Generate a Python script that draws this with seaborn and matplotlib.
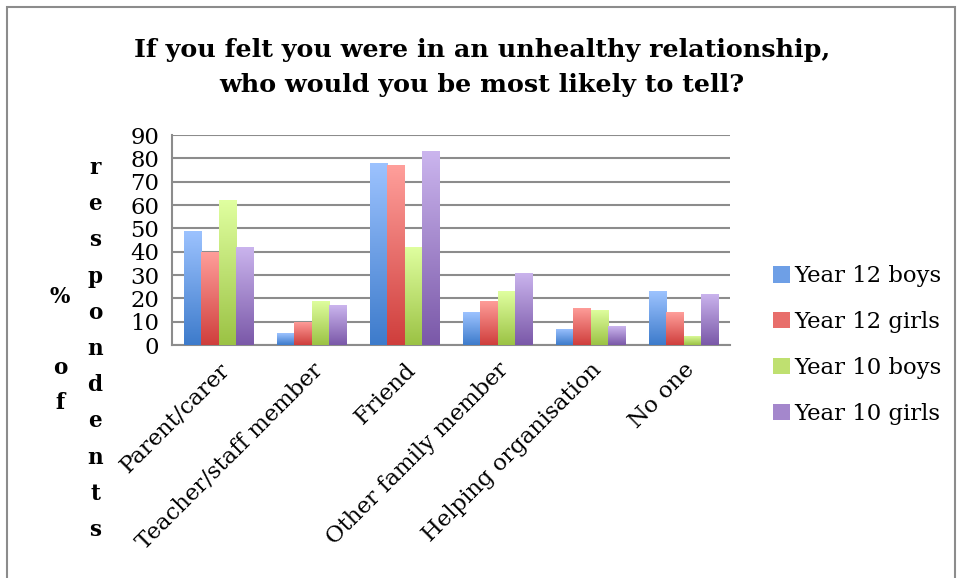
import numpy as np
import pandas as pd
import matplotlib
matplotlib.use("Agg")
import matplotlib.pyplot as plt
import seaborn as sns
from matplotlib.colors import LinearSegmentedColormap
from matplotlib.patches import Patch, Rectangle

categories = ["Parent/carer", "Teacher/staff member", "Friend",
              "Other family member", "Helping organisation", "No one"]
series = ["Year 12 boys", "Year 12 girls", "Year 10 boys", "Year 10 girls"]
year12_boys = [49, 5, 78, 14, 7, 23]
year12_girls = [40, 10, 77, 19, 16, 14]
year10_boys = [62, 19, 42, 23, 15, 4]
year10_girls = [42, 17, 83, 31, 8, 22]
yticks = [0, 10, 20, 30, 40, 50, 60, 70, 80, 90]

top_cols = ["#9DC3FF", "#FF9F9B", "#E0FFA0", "#CBB5EE"]
bot_cols = ["#3D7BCB", "#CF3E3C", "#9BC244", "#7A58A8"]
mid_cols = ["#6E9FE6", "#E86E6B", "#BFE070", "#A487CC"]

df = pd.DataFrame({
    "category": categories * 4,
    "series": sum([[s] * 6 for s in series], []),
    "value": year12_boys + year12_girls + year10_boys + year10_girls,
})

sns.set_style("white")
plt.rcParams["font.family"] = ["DejaVu Serif"]
plt.rcParams["text.color"] = "black"
plt.rcParams["xtick.color"] = "black"
plt.rcParams["ytick.color"] = "black"

fig = plt.figure(figsize=(9.57, 5.78), dpi=100)
ax = fig.add_axes([172/957, 1-345/578, (730-172)/957, (345-135)/578])


def fit_width(txt, target_px):
    r = fig.canvas.get_renderer()
    w = txt.get_window_extent(r).width
    txt.set_fontsize(txt.get_fontsize() * target_px / w)
    return txt.get_fontsize()


sns.barplot(data=df, x="category", y="value", hue="series", order=categories,
            hue_order=series, palette=mid_cols, width=0.74, ax=ax,
            legend=False, errorbar=None, saturation=1)

# gradient fill for each bar
grad = np.linspace(0, 1, 256).reshape(-1, 1)
for i, cont in enumerate(ax.containers):
    cmap = LinearSegmentedColormap.from_list("g", [top_cols[i], bot_cols[i]])
    for p in cont.patches:
        x0, y0 = p.get_x(), p.get_y()
        w, h = p.get_width(), p.get_height()
        p.set_facecolor("none")
        p.set_edgecolor("none")
        im = ax.imshow(grad, cmap=cmap, aspect="auto", origin="upper",
                       extent=[x0, x0 + w, y0, y0 + h], zorder=3,
                       interpolation="bilinear")
        im.set_clip_path(p)

# measure font size: legend text "Year 12 boys" ~146 px wide in reference
probe = fig.text(0, 0, "Year 12 boys", fontsize=13)
fs = fit_width(probe, 146)
probe.remove()

ax.set_xlim(-0.5, 5.5)
ax.set_ylim(0, 90)
ax.set_yticks(yticks)
ax.set_yticklabels([str(t) for t in yticks], fontsize=fs)
ax.yaxis.grid(True, color="#8C8C8C", linewidth=1.5)
ax.set_axisbelow(True)
for s in ["top", "right"]:
    ax.spines[s].set_visible(False)
ax.spines["left"].set_color("#8C8C8C")
ax.spines["left"].set_linewidth(1.5)
ax.spines["bottom"].set_color("#8C8C8C")
ax.spines["bottom"].set_linewidth(1.5)
ax.tick_params(axis="y", length=6, width=1.5, color="#8C8C8C", pad=3,
               labelcolor="black")
ax.set_xticks(np.arange(6))
ax.set_xticklabels(categories, rotation=45, ha="right",
                   rotation_mode="anchor", fontsize=fs)
ax.tick_params(axis="x", length=0, pad=10, labelcolor="black")
ax.set_xticks(np.arange(-0.5, 6.0, 1), minor=True)
ax.tick_params(axis="x", which="minor", length=7, width=1.5, color="#8C8C8C")
ax.set_xlabel("")
ax.set_ylabel("")

# y-axis label
lab_fs = fs * 0.95
fig.text(60/957, 1-297/578, "%", ha="center", va="center",
         fontsize=lab_fs, fontweight="bold", color="black")
fig.text(60/957, 1-368/578, "o", ha="center", va="center",
         fontsize=lab_fs, fontweight="bold", color="black")
fig.text(60/957, 1-403/578, "f", ha="center", va="center",
         fontsize=lab_fs, fontweight="bold", color="black")
word = "respondents"
for k, ch in enumerate(word):
    fig.text(95/957, 1-(168 + k*36.2)/578, ch, ha="center", va="center",
             fontsize=lab_fs, fontweight="bold", color="black")

# title
t1 = fig.text(482/957, 1-50/578, "If you felt you were in an unhealthy relationship,",
              ha="center", va="center", fontsize=17, fontweight="bold",
              color="black")
tfs = fit_width(t1, 696)
fig.text(482/957, 1-85/578, "who would you be most likely to tell?",
         ha="center", va="center", fontsize=tfs, fontweight="bold",
         color="black")

# legend
handles = [Patch(facecolor=mid_cols[i], edgecolor="none") for i in range(4)]
fig.legend(handles, series, loc="center left",
           bbox_to_anchor=(764/957, 1-345/578), frameon=False,
           fontsize=fs, handlelength=0.75, handleheight=0.75,
           handletextpad=0.2, labelspacing=1.05, borderaxespad=0,
           labelcolor="black")

# outer border
fig.add_artist(Rectangle((7/957, -0.01), (955-7)/957, (578-7)/578 + 0.01,
                         transform=fig.transFigure, fill=False,
                         edgecolor="#8C8C8C", linewidth=1.5))

fig.savefig("out.png", dpi=100)
